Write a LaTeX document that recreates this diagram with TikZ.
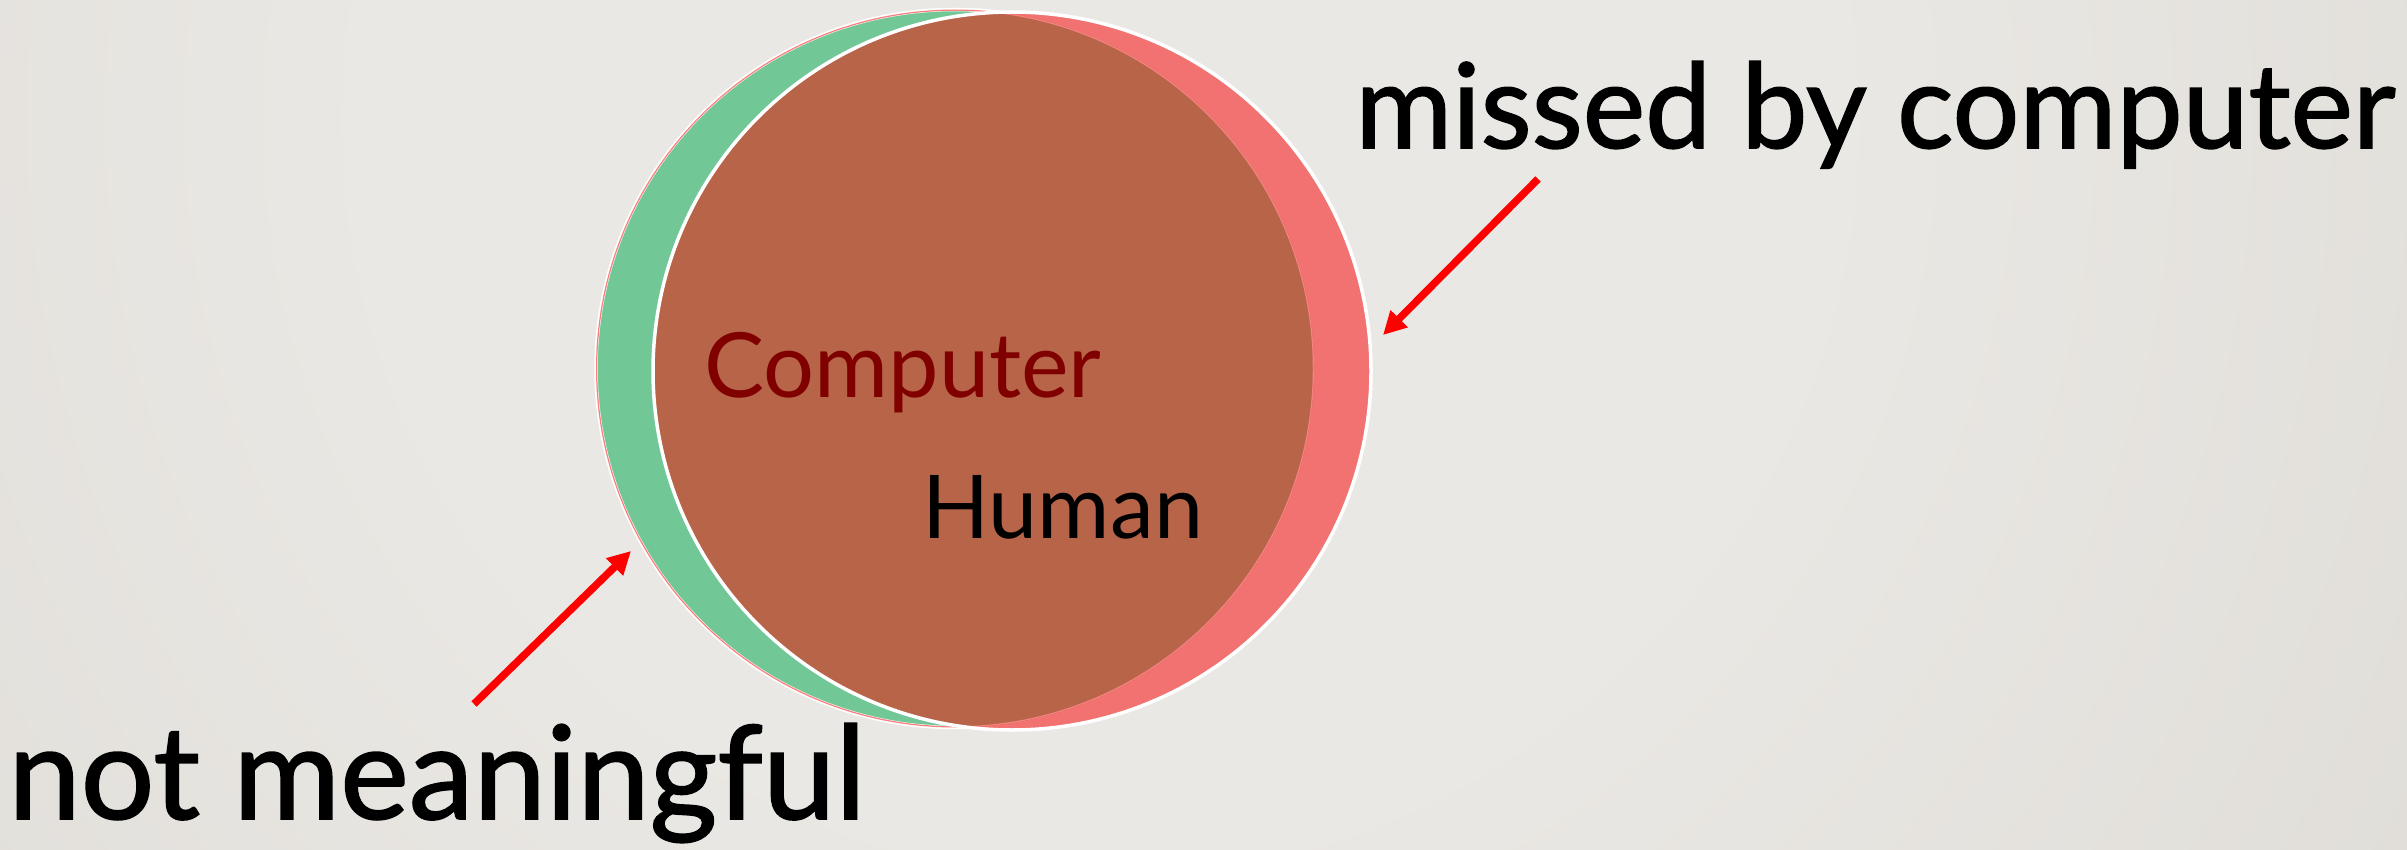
\documentclass[tikz,border=0pt]{standalone}
\usepackage{fontspec}
\setmainfont{Lato}
\newfontfamily\heavyfont{Lato}[FakeBold=1.3]
\usetikzlibrary{arrows.meta}
\definecolor{bgin}{HTML}{EAE8E4}
\definecolor{bgout}{HTML}{CFCBC5}
\definecolor{humgreen}{HTML}{72C797}
\definecolor{comred}{HTML}{F17270}
\definecolor{overlap}{HTML}{B76449}
\definecolor{pinkline}{HTML}{F7817F}
\definecolor{darkred}{HTML}{800000}
\definecolor{arrowred}{HTML}{FF0000}
\pgfdeclareradialshading{bgshade}{\pgfpoint{0bp}{0bp}}{color(0bp)=(bgin); color(12bp)=(bgin); color(50bp)=(bgout)}
\tikzset{
  label text/.style={inner sep=0pt, anchor=base west},
  pointer/.style={draw=arrowred, line width=7.5pt, -{Triangle[length=23pt,width=23pt]}},
}
\begin{document}
\begin{tikzpicture}[x=1pt,y=-1pt]
\useasboundingbox (0,0) rectangle (2407,850);
% background
\begin{scope}
\clip (0,0) rectangle (2407,850);
\shade[shading=bgshade] (1100,120) circle (1500);
\end{scope}
% circles
\coordinate (hc) at (955,368.5);
\coordinate (cc) at (1012,371);
\fill[humgreen] (hc) circle (359);
\draw[white, line width=3.5pt] (hc) circle (359);
\fill[comred] (cc) circle (359);
\begin{scope}
\clip (hc) circle (359);
\fill[overlap] (cc) circle (359);
\draw[pinkline, line width=2.5pt] (hc) circle (359);
\end{scope}
\draw[white, line width=3.5pt] (cc) circle (359);
% labels
\node[label text, text=darkred, font=\fontsize{90}{100}\selectfont] (computer) at (704,397) {Computer};
\node[label text, text=black, font=\fontsize{88}{100}\selectfont] (human) at (922,538) {Human};
\node[label text, text=black, font=\heavyfont\fontsize{118}{130}\selectfont] (missed) at (1355,148) {missed by computer};
\node[label text, text=black, font=\heavyfont\fontsize{130}{150}\selectfont] (notm) at (8,819) {not meaningful};
% arrows
\coordinate (a1s) at (474,704);
\coordinate (a1e) at (631,551);
\coordinate (a2s) at (1538,179);
\coordinate (a2e) at (1383,335);
\draw[pointer] (a1s) -- (a1e);
\draw[pointer] (a2s) -- (a2e);
\end{tikzpicture}
\end{document}
